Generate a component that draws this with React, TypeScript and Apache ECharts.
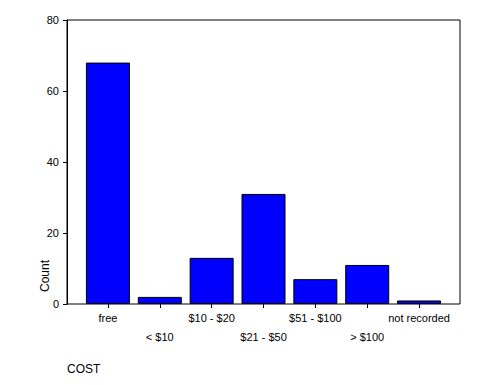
import React, { useEffect, useRef } from "react";
import * as echarts from "echarts";

const categories = ["free", "< $10", "$10 - $20", "$21 - $50", "$51 - $100", "> $100", "not recorded"];
const counts = [68, 2, 13, 31, 7, 11, 1];
const yTicks = { min: 0, max: 80, interval: 20 };

export default function App() {
  const ref = useRef<HTMLDivElement>(null);
  useEffect(() => {
    const chart = echarts.init(ref.current!, null, { renderer: "svg" });
    const font = "'Liberation Sans', Arial, sans-serif";
    chart.setOption({
      animation: false,
      backgroundColor: "#ffffff",
      grid: { left: 82, top: 20, width: 363, height: 284, containLabel: false },
      xAxis: {
        type: "category",
        data: categories,
        axisLine: { show: false },
        axisTick: { show: true, alignWithLabel: true, length: 4, lineStyle: { color: "#000", width: 1 } },
        axisLabel: {
          interval: 0,
          color: "#000",
          fontFamily: font,
          fontSize: 11,
          margin: 4,
          lineHeight: 19,
          formatter: (v: string, i: number) => (i % 2 === 1 ? "\n" + v : v),
        },
        splitLine: { show: false },
      },
      yAxis: {
        type: "value",
        min: yTicks.min,
        max: yTicks.max,
        interval: yTicks.interval,
        offset: 15,
        axisLine: { show: true, lineStyle: { color: "#000", width: 1 } },
        axisTick: { show: true, length: 4, lineStyle: { color: "#000", width: 1 } },
        axisLabel: { color: "#000", fontFamily: font, fontSize: 11, margin: 8 },
        splitLine: { show: false },
      },
      series: [
        {
          type: "bar",
          data: counts,
          barWidth: 44,
          itemStyle: { color: "#0000ff", borderColor: "#000", borderWidth: 1 },
        },
      ],
      graphic: [
        {
          type: "rect",
          shape: { x: 67, y: 20, width: 393, height: 284 },
          style: { fill: "none", stroke: "#000", lineWidth: 1 },
          z: 10,
          silent: true,
        },
        {
          type: "text",
          x: 45,
          y: 276,
          rotation: Math.PI / 2,
          style: {
            text: "Count",
            fill: "#000",
            font: `12px ${font}`,
            align: "center",
            verticalAlign: "middle",
          },
        },
        {
          type: "text",
          x: 67,
          y: 369,
          style: {
            text: "COST",
            fill: "#000",
            font: `12px ${font}`,
            align: "left",
            verticalAlign: "middle",
          },
        },
      ],
    });
    return () => chart.dispose();
  }, []);
  return <div ref={ref} style={{ width: 481, height: 385, position: "fixed", left: 0, top: 0 }} />;
}
